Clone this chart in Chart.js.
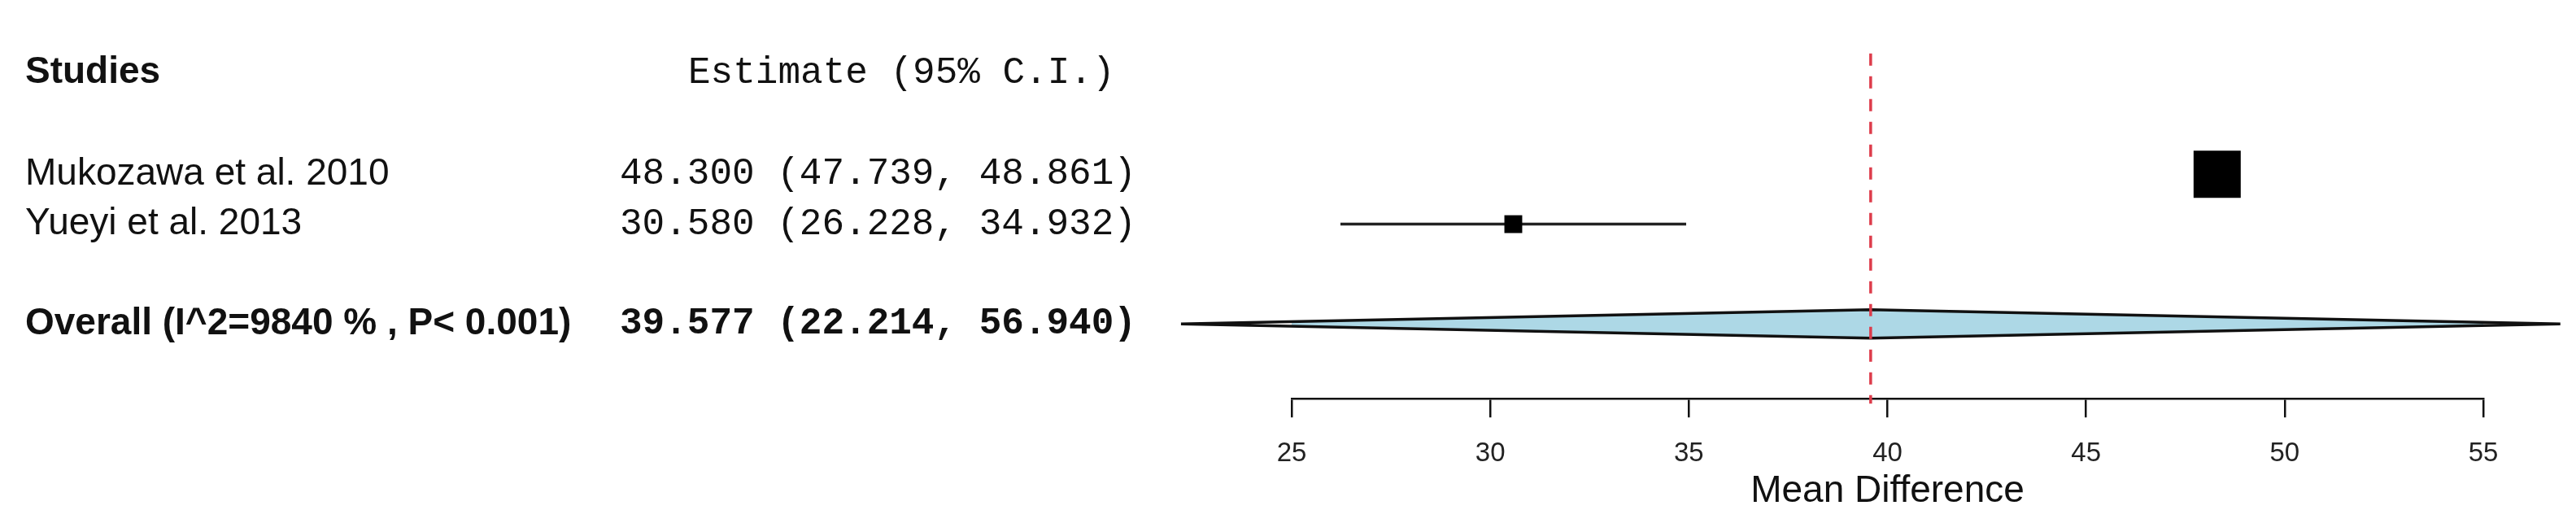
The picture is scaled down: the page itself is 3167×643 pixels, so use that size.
<!DOCTYPE html>
<html lang="en">
<head>
  <meta charset="UTF-8" />
  <title>Forest plot - Mean Difference</title>
  <script src="https://cdn.jsdelivr.net/npm/chart.js"></script>
  <style>
    html, body {
      margin: 0;
      padding: 0;
      background: #ffffff;
    }
    #wrap {
      width: 3167px;
      height: 643px;
    }
  </style>
</head>
<body>
  <div id="wrap">
    <canvas id="forest" width="3167" height="643"></canvas>
  </div>

  <script>
    // data
    const studies = ['Mukozawa et al. 2010', 'Yueyi et al. 2013'];
    const estimates = [48.300, 30.580];
    const lowerCI = [47.739, 26.228];
    const upperCI = [48.861, 34.932];
    const overallLabel = 'Overall (I^2=9840 % , P< 0.001)';
    const overallEstimate = [39.577];
    const overallLower = [22.214];
    const overallUpper = [56.940];
    const xTicks = [25, 30, 35, 40, 45, 50, 55];

    // row layout (y scale units, 0 = header line)
    const studyRow = i => i + 2;
    const overallRow = studies.length + 3;
    const diamondHalf = 0.285;

    const SANS = '"Liberation Sans", Arial, Helvetica, sans-serif';
    const MONO = '"Liberation Mono", "Courier New", monospace';

    const fmt = v => v.toFixed(3);

    // text columns on the left side
    const textColumns = {
      id: 'textColumns',
      afterDraw(chart) {
        const ctx = chart.ctx;
        const y = chart.scales.y;
        ctx.save();
        ctx.fillStyle = '#111';
        ctx.textBaseline = 'middle';
        ctx.textAlign = 'left';

        const hy = y.getPixelForValue(0) - 2;
        ctx.font = 'bold 46px ' + SANS;
        ctx.fillText('Studies', 31, hy);
        ctx.font = '46px ' + MONO;
        ctx.fillText('Estimate (95% C.I.)', 846, hy);

        studies.forEach((name, i) => {
          const py = y.getPixelForValue(studyRow(i));
          ctx.font = '46px ' + SANS;
          ctx.fillText(name, 31, py);
          ctx.font = '46px ' + MONO;
          ctx.fillText(fmt(estimates[i]) + ' (' + fmt(lowerCI[i]) + ', ' + fmt(upperCI[i]) + ')', 762, py);
        });

        const oy = y.getPixelForValue(overallRow);
        ctx.font = 'bold 46px ' + SANS;
        ctx.fillText(overallLabel, 31, oy);
        ctx.font = 'bold 46px ' + MONO;
        ctx.fillText(fmt(overallEstimate[0]) + ' (' + fmt(overallLower[0]) + ', ' + fmt(overallUpper[0]) + ')', 762, oy);
        ctx.restore();
      }
    };

    // confidence interval whiskers, one line dataset per study
    const ciSets = studies.map((s, i) => ({
      type: 'line',
      data: [{ x: lowerCI[i], y: studyRow(i) }, { x: upperCI[i], y: studyRow(i) }],
      borderColor: '#222',
      borderWidth: 3.5,
      pointRadius: 0,
      clip: false,
      order: 3
    }));

    const datasets = [
      // red reference line at the pooled estimate
      {
        type: 'line',
        data: [{ x: overallEstimate[0], y: -0.42 }, { x: overallEstimate[0], y: 6.6 }],
        borderColor: '#dd3c4b',
        borderWidth: 3.5,
        borderDash: [15, 13],
        pointRadius: 0,
        clip: false,
        order: 1
      },
      ...ciSets,
      // study point estimates
      {
        type: 'scatter',
        data: estimates.map((v, i) => ({ x: v, y: studyRow(i) })),
        pointStyle: 'rect',
        pointRadius: [41, 15.5],
        backgroundColor: '#000',
        borderColor: '#000',
        borderWidth: 0,
        clip: false,
        order: 2
      },
      // pooled diamond
      {
        type: 'line',
        data: [
          { x: overallLower[0], y: overallRow },
          { x: overallEstimate[0], y: overallRow - diamondHalf },
          { x: overallUpper[0], y: overallRow },
          { x: overallEstimate[0], y: overallRow + diamondHalf },
          { x: overallLower[0], y: overallRow }
        ],
        borderColor: '#111',
        borderWidth: 3.5,
        backgroundColor: '#add8e6',
        fill: 'shape',
        tension: 0,
        pointRadius: 0,
        clip: false,
        order: 4
      }
    ];

    new Chart(document.getElementById('forest').getContext('2d'), {
      type: 'scatter',
      data: { datasets },
      options: {
        responsive: false,
        animation: false,
        devicePixelRatio: 1,
        layout: { padding: { left: 1588, right: 114, top: 0, bottom: 11 } },
        plugins: {
          legend: { display: false },
          tooltip: { enabled: false }
        },
        scales: {
          x: {
            type: 'linear',
            position: 'bottom',
            min: xTicks[0],
            max: xTicks[xTicks.length - 1],
            afterBuildTicks: scale => {
              scale.ticks = xTicks.map(v => ({ value: v }));
            },
            border: { display: true, color: '#111', width: 2.5 },
            grid: {
              drawOnChartArea: false,
              drawTicks: true,
              tickLength: 23,
              color: '#111',
              lineWidth: 2.5
            },
            ticks: {
              color: '#222',
              padding: 25,
              maxRotation: 0,
              font: { family: SANS, size: 33 }
            },
            title: {
              display: true,
              text: 'Mean Difference',
              color: '#111',
              padding: { top: -26, bottom: 0 },
              font: { family: SANS, size: 46 }
            }
          },
          y: {
            type: 'linear',
            display: false,
            reverse: true,
            min: -0.825,
            max: 6.5
          }
        }
      },
      plugins: [textColumns]
    });
  </script>
</body>
</html>
